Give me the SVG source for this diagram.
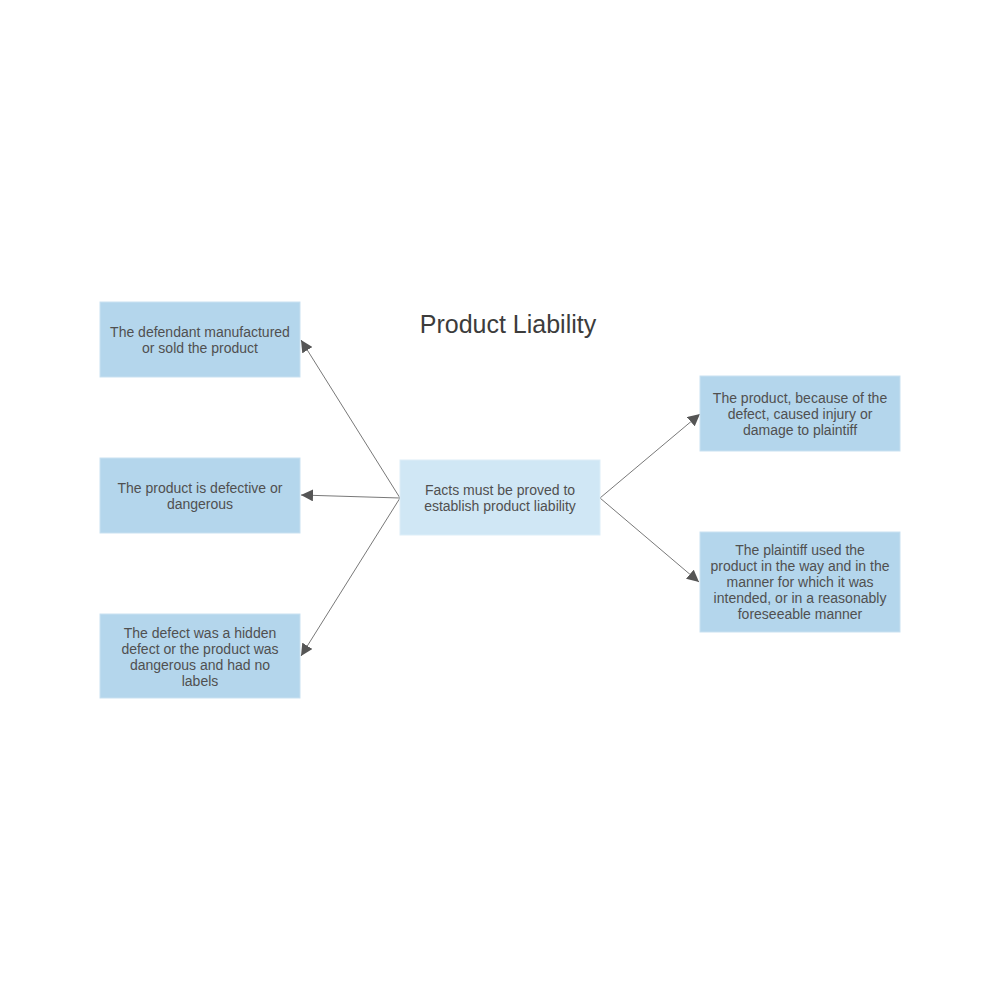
<svg xmlns="http://www.w3.org/2000/svg" width="1000" height="1000" viewBox="0 0 1000 1000">
<style>
.box{fill:#b4d6ec;stroke:#c9e1f1;stroke-width:1}
.center{fill:#d0e7f5;stroke:#ddeef8;stroke-width:1}
.t{font-family:"Liberation Sans",Arial,sans-serif;font-size:14px;fill:#505050;text-anchor:middle}
.title{font-family:"Liberation Sans",Arial,sans-serif;font-size:25px;fill:#3c3c3c;text-anchor:middle}
.c{fill:none;stroke:#555;stroke-width:0.8}
</style>
<defs>
<marker id="ah" viewBox="0 0 10 10" refX="10" refY="5" markerWidth="12" markerHeight="12" markerUnits="userSpaceOnUse" orient="auto">
<path d="M0,0 L10,5 L0,10 z" fill="#555"/>
</marker>
</defs>
<rect width="1000" height="1000" fill="#fff"/>
<text class="title" x="508" y="333">Product Liability</text>
<g id="connectors">
<line class="c" x1="400" y1="498" x2="301" y2="340" marker-end="url(#ah)"/>
<line class="c" x1="400" y1="498" x2="301" y2="495" marker-end="url(#ah)"/>
<line class="c" x1="400" y1="498" x2="301" y2="656" marker-end="url(#ah)"/>
<line class="c" x1="600" y1="498" x2="700" y2="414" marker-end="url(#ah)"/>
<line class="c" x1="600" y1="498" x2="699" y2="582" marker-end="url(#ah)"/>
</g>
<g id="center">
<rect class="center" x="400" y="460" width="200" height="75"/>
<text class="t" x="500" y="495">Facts must be proved to</text>
<text class="t" x="500" y="511">establish product liability</text>
</g>
<g id="n1">
<rect class="box" x="100" y="302" width="200" height="75"/>
<text class="t" x="200" y="337">The defendant manufactured</text>
<text class="t" x="200" y="353">or sold the product</text>
</g>
<g id="n2">
<rect class="box" x="100" y="458" width="200" height="75"/>
<text class="t" x="200" y="493">The product is defective or</text>
<text class="t" x="200" y="509">dangerous</text>
</g>
<g id="n3">
<rect class="box" x="100" y="614" width="200" height="84"/>
<text class="t" x="200" y="638">The defect was a hidden</text>
<text class="t" x="200" y="654">defect or the product was</text>
<text class="t" x="200" y="670">dangerous and had no</text>
<text class="t" x="200" y="686">labels</text>
</g>
<g id="n4">
<rect class="box" x="700" y="376" width="200" height="75"/>
<text class="t" x="800" y="403">The product, because of the</text>
<text class="t" x="800" y="419">defect, caused injury or</text>
<text class="t" x="800" y="435">damage to plaintiff</text>
</g>
<g id="n5">
<rect class="box" x="700" y="532" width="200" height="100"/>
<text class="t" x="800" y="555">The plaintiff used the</text>
<text class="t" x="800" y="571">product in the way and in the</text>
<text class="t" x="800" y="587">manner for which it was</text>
<text class="t" x="800" y="603">intended, or in a reasonably</text>
<text class="t" x="800" y="619">foreseeable manner</text>
</g>
</svg>
